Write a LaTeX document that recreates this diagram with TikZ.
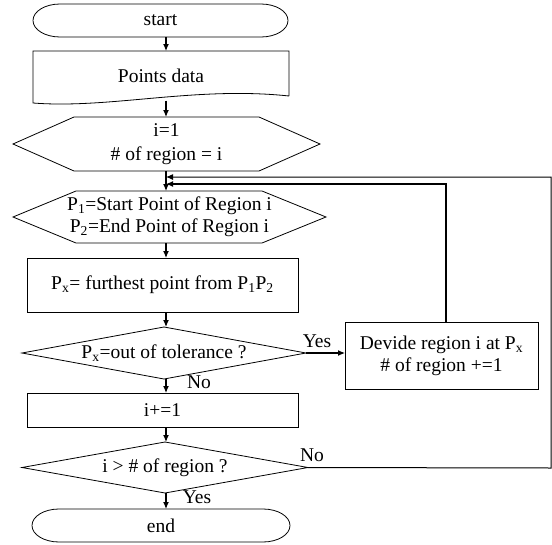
\documentclass[tikz,border=0pt]{standalone}
\usepackage{fontspec}
\setmainfont{Liberation Serif}
\usetikzlibrary{arrows.meta,calc}
\begin{document}
\begin{tikzpicture}[x=1pt,y=-1pt,
  font=\fontsize{19.5}{22}\selectfont,
  shp/.style={draw=black, line width=0.8pt},
  holder/.style={inner sep=0pt, outer sep=0pt, align=center},
  boxnode/.style={holder, draw=black, line width=0.8pt},
  conn/.style={line width=1.1pt, -{Latex[length=7pt,width=6pt]}},
  thin conn/.style={line width=1pt, -{Latex[length=7pt,width=6pt]}},
  lab/.style={inner sep=0pt}]
\useasboundingbox (0,0) rectangle (552,544);

% axis and joints
\coordinate (ax) at (166,0);
\coordinate (j1) at (166,177);
\coordinate (j2) at (166,184);
\coordinate (c1) at (551,468);
\coordinate (c3) at (446,0);

% start
\node[holder, minimum width=255pt, minimum height=33pt] (start) at (160.5,20.5) {start};
\draw[shp] ($(start.north west)+(27,0)$) -- ($(start.north east)+(-27,0)$)
  arc[start angle=90,end angle=-90,x radius=27pt,y radius=16.5pt]
  -- ($(start.south west)+(27,0)$)
  arc[start angle=270,end angle=90,x radius=27pt,y radius=16.5pt] -- cycle;

% points data
\node[holder, minimum width=256pt, minimum height=49pt] (points) at (161,75.5) {Points data};
\draw[shp] (289,96) -- (289,51) -- (33,51) -- (33,103)
  .. controls (110,109) and (195,86) .. (289,96);

% hexagon 1
\node[holder, minimum width=307pt, minimum height=54pt] (hexa) at (166.5,144) {i=1\\[2pt]\# of region = i};
\draw[shp] (hexa.west) -- ($(hexa.north west)+(61,0)$) -- ($(hexa.north east)+(-61,0)$)
  -- (hexa.east) -- ($(hexa.south east)+(-61,0)$) -- ($(hexa.south west)+(61,0)$) -- cycle;

% hexagon 2
\node[holder, minimum width=313pt, minimum height=52pt] (hexb) at (169.5,217)
  {P\textsubscript{1}=Start Point of Region i\\P\textsubscript{2}=End Point of Region i};
\draw[shp] (hexb.west) -- ($(hexb.north west)+(63,0)$) -- ($(hexb.north east)+(-64,0)$)
  -- (hexb.east) -- ($(hexb.south east)+(-64,0)$) -- ($(hexb.south west)+(63,0)$) -- cycle;

% Px box
\node[boxnode, minimum width=271pt, minimum height=54pt] (pxbox) at (162.5,285)
  {P\textsubscript{x}= furthest point from P\textsubscript{1}P\textsubscript{2}};

% decision 1
\node[holder, minimum width=284pt, minimum height=52pt] (deca) at (164,353) {P\textsubscript{x}=out of tolerance ?};
\draw[shp] (deca.west) -- (deca.north) -- (deca.east) -- (deca.south) -- cycle;

% divide box
\node[boxnode, minimum width=193pt, minimum height=67pt] (divbox) at (441.5,355.5)
  {Devide region i at P\textsubscript{x}\\\# of region +=1};

% i+=1
\node[boxnode, minimum width=271pt, minimum height=34pt] (incbox) at (162.5,410) {i+=1};

% decision 2
\node[holder, minimum width=286pt, minimum height=51pt] (decb) at (165,467.5) {i > \# of region ?};
\draw[shp] (decb.west) -- (decb.north) -- (decb.east) -- (decb.south) -- cycle;

% end
\node[holder, minimum width=258pt, minimum height=33pt] (endn) at (161,525.5) {end};
\draw[shp] ($(endn.north west)+(27,0)$) -- ($(endn.north east)+(-27,0)$)
  arc[start angle=90,end angle=-90,x radius=27pt,y radius=16.5pt]
  -- ($(endn.south west)+(27,0)$)
  arc[start angle=270,end angle=90,x radius=27pt,y radius=16.5pt] -- cycle;

% labels
\node[lab] (yesa) at (317,341) {Yes};
\node[lab] (noa) at (199,382) {No};
\node[lab] (nob) at (312,455) {No};
\node[lab] (yesb) at (197,497) {Yes};

% connectors
\draw[conn] (start.south -| ax) -- (points.north -| ax);
\draw[conn] (166,100.5) -- (hexa.north -| ax);
\draw[conn] (hexa.south -| ax) -- (hexb.north -| ax);
\draw[conn] (hexb.south -| ax) -- (pxbox.north -| ax);
\draw[conn] (pxbox.south -| ax) -- (deca.north -| ax);
\draw[conn] (deca.south -| ax) -- (incbox.north -| ax);
\draw[conn] (incbox.south -| ax) -- (decb.north -| ax);
\draw[conn] (decb.south -| ax) -- (endn.north -| ax);
\draw[conn] (deca.east) -- (deca.east -| divbox.west);
\draw[thin conn] (decb.east) -- (c1) |- (j1);
\draw[conn] (divbox.north -| c3) |- (j2);
\end{tikzpicture}
\end{document}
